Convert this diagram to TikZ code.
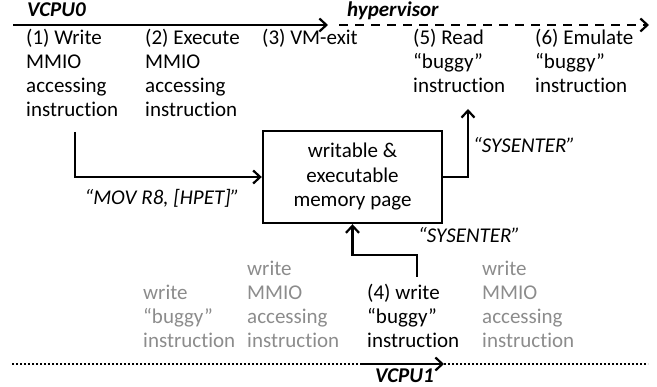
\documentclass[tikz,border=0pt]{standalone}
\usepackage{fontspec}
\setmainfont[RawFeature={-liga;-clig;-dlig}]{Carlito}
\usetikzlibrary{arrows.meta,calc}
\definecolor{lightgrey}{RGB}{140,140,140}
\newcommand{\colt}[1]{\begin{tabular}[t]{@{}l@{}}#1\end{tabular}}
\begin{document}
\begin{tikzpicture}[x=1pt,y=-1pt,
  txt/.style={anchor=base west, inner sep=0pt, font=\fontsize{21}{23.7}\selectfont},
  gtxt/.style={txt, text=lightgrey},
  lab/.style={inner sep=0pt, font=\fontsize{21}{23.7}\selectfont\itshape},
  blab/.style={anchor=base west, inner sep=0pt, font=\fontsize{21}{23.7}\selectfont\bfseries\itshape},
  conn/.style={line width=2.4pt, -{Straight Barb[length=7pt,width=13pt,line width=2.2pt]}},
  tline/.style={line width=2.4pt},
  membox/.style={draw, line width=2.4pt, minimum width=179pt, minimum height=92pt, inner sep=0pt, align=center, font=\fontsize{21}{24.5}\selectfont}]
\useasboundingbox (0,0) rectangle (657,387);

% timelines
\coordinate (a0) at (13,25);
\coordinate (a1) at (328,25);
\coordinate (h0) at (339,25);
\coordinate (h1) at (649,25);
\draw[conn] (a0) -- (a1);
\draw[conn, dash pattern=on 9pt off 7pt] (h0) -- (h1);
\coordinate (b0) at (12,364);
\coordinate (b1) at (648,364);
\draw[tline, line width=2pt, dash pattern=on 2pt off 2pt] (b0) -- (b1);
\coordinate (v0) at (362,364);
\coordinate (v1) at (444,364);
\draw[conn] (v0) -- (v1);

% labels on timelines
\node[blab] (vcpu0) at (27,17) {VCPU0};
\node[blab] (hyp) at (347,17) {hypervisor};
\node[blab] (vcpu1) at (375,383) {VCPU1};

% top columns
\node[txt] (c1) at (26,45) {\colt{(1) Write\\MMIO\\accessing\\instruction}};
\node[txt] (c2) at (145,45) {\colt{(2) Execute\\MMIO\\accessing\\instruction}};
\node[txt] (c3) at (262,45) {\colt{(3) VM-exit}};
\node[txt] (c5) at (413,45) {\colt{(5) Read\\“buggy”\\instruction}};
\node[txt] (c6) at (535,45) {\colt{(6) Emulate\\“buggy”\\instruction}};

% bottom columns
\node[gtxt] (ga) at (143,300) {\colt{write\\“buggy”\\instruction}};
\node[gtxt] (gb) at (247,276) {\colt{write\\MMIO\\accessing\\instruction}};
\node[txt] (c4) at (367,300) {\colt{(4) write\\“buggy”\\instruction}};
\node[gtxt] (gd) at (482,276) {\colt{write\\MMIO\\accessing\\instruction}};

% memory page box
\node[membox] (box) at (352.5,177) {writable \&\\executable\\memory page};

% connectors
\coordinate (s1) at (75,132);
\draw[conn] (s1) |- (box.west);
\coordinate (t5) at (468,109);
\draw[conn] (box.east) -| (t5);
\coordinate (s4) at (417,277);
\draw[conn] (s4) -- ++(0,-22) -| (box.south);

% connector labels
\node[lab, anchor=base] (mov) at (162,205) {“MOV R8, [HPET]”};
\node[lab, anchor=base west] (sys1) at (473,153) {“SYSENTER”};
\node[lab, anchor=base west] (sys2) at (418,243) {“SYSENTER”};
\end{tikzpicture}
\end{document}
